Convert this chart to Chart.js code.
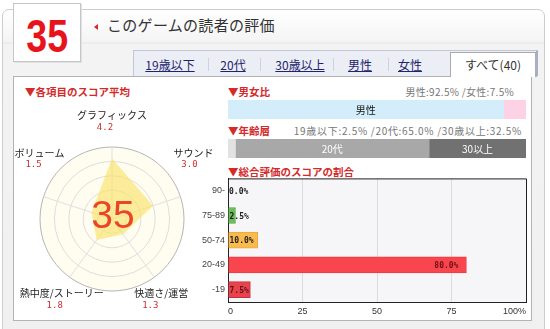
<!DOCTYPE html>
<html lang="ja">
<head>
<meta charset="utf-8">
<title>このゲームの読者の評価</title>
<script src="https://cdn.jsdelivr.net/npm/chart.js@4.4.1/dist/chart.umd.min.js"></script>
<style>
  html, body { margin: 0; padding: 0; background: #fff; }
  body { width: 550px; height: 329px; position: relative; overflow: hidden; font-family: "Noto Sans CJK JP", sans-serif; }
  .abs { position: absolute; }
  #frame { left: 2px; top: 9px; width: 543px; height: 330px; box-sizing: border-box; border: 1px solid #cdcdcd; border-radius: 7px 7px 0 0;
    background: linear-gradient(#ffffff 0px, #f4f4f4 32px, #e4e4e4 33px, #f3f3f3 34px, #f0f0f0 100%); }
  #scoreBox { left: 13px; top: 3px; width: 68px; height: 59px; box-sizing: border-box; background: #fff; border: 1px solid #c6c6c6;
    box-shadow: 1px 1px 0 #e2e2e2; text-align: center; }
  #scoreBox span { display: inline-block; font: bold 47px/47px "Liberation Sans", Arial, sans-serif; color: #e8141c; transform: scaleX(0.8); margin-top: 8px; }
  #titleMark { left: 94px; top: 24px; width: 0; height: 0; border-top: 3px solid transparent; border-bottom: 3px solid transparent; border-right: 4px solid #d8262c; }
  #title { left: 107px; top: 17px; font-size: 15px; line-height: 16px; color: #333; letter-spacing: 0.3px; white-space: nowrap; }
  #tabStrip { left: 133px; top: 50px; width: 405px; height: 26px; box-sizing: border-box; background: #eceef6; border-top: 1px solid #c3c6d4; border-left: 1px solid #c3c6d4; border-right: 2px solid #a9aec4; }
  .tab { top: 58px; font-size: 12px; line-height: 14px; color: #23236b; text-decoration: underline; white-space: nowrap; transform: translateX(-50%); }
  .sep { top: 58px; width: 1px; height: 13px; background: #cfd1dc; }
  #panel { left: 13px; top: 76px; width: 519px; height: 245px; box-sizing: border-box; background: #fff; border: 1px solid #b3b3b3; }
  #activeTab { left: 450px; top: 52px; width: 87px; height: 25px; box-sizing: border-box; background: #fff; border: 1px solid #aaaaaa; border-bottom: none; border-right: 2px solid #a9aec4; }
  #activeTab span { display: block; text-align: center; font-size: 12px; line-height: 14px; margin-top: 5px; color: #333; }
  .head { font-size: 10.5px; line-height: 12px; font-weight: bold; color: #d42a2a; white-space: nowrap; }
  .stat { font-size: 10px; line-height: 12px; color: #777; white-space: nowrap; }
  canvas { position: absolute; }
</style>
</head>
<body>
<div id="frame" class="abs"></div>
<div id="scoreBox" class="abs"><span id="scoreNum"></span></div>
<div id="titleMark" class="abs"></div>
<div id="title" class="abs">このゲームの読者の評価</div>
<div id="tabStrip" class="abs"></div>
<div id="tabs"></div>
<div id="panel" class="abs"></div>
<div id="activeTab" class="abs"><span id="allTab"></span></div>

<div class="abs head" style="left:25px; top:86px;">▼各項目のスコア平均</div>
<div class="abs head" style="left:228px; top:86px;">▼男女比</div>
<div class="abs head" style="left:228px; top:125px;">▼年齢層</div>
<div class="abs head" style="left:228px; top:166px;">▼総合評価のスコアの割合</div>
<div id="genderStat" class="abs stat" style="right:36px; top:86px; letter-spacing:0.3px;"></div>
<div id="ageStat" class="abs stat" style="right:28px; top:125px; letter-spacing:0.7px;"></div>

<canvas id="radarCanvas" width="210" height="220" style="left:12px; top:100px;"></canvas>
<canvas id="genderCanvas" width="298" height="19" style="left:228px; top:100px;"></canvas>
<canvas id="ageCanvas" width="298" height="19" style="left:228px; top:139px;"></canvas>
<canvas id="rangeCanvas" width="350" height="150" style="left:188px; top:170px;"></canvas>

<script>
// 総合スコアと投稿数
const totalScore = 35;
const reviewCount = 40;

// タブ
const tabLabels = ['19歳以下', '20代', '30歳以上', '男性', '女性'];

// 各項目のスコア平均（5点満点）
const itemLabels = ['グラフィックス', 'サウンド', '快適さ/運営', '熱中度/ストーリー', 'ボリューム'];
const itemScores = [4.2, 3.0, 1.3, 1.8, 1.5];

// 男女比
const genderLabels = ['男性', '女性'];
const genderShares = [92.5, 7.5];

// 年齢層
const ageLabels = ['19歳以下', '20代', '30歳以上'];
const ageBarLabels = ['', '20代', '30以上'];
const ageShares = [2.5, 65.0, 32.5];

// 総合評価のスコアの割合
const rangeLabels = ['90-', '75-89', '50-74', '20-49', '-19'];
const rangeShares = [0.0, 2.5, 10.0, 80.0, 7.5];
const shareTicks = [0, 25, 50, 75, 100];

Chart.defaults.animation = false;
Chart.defaults.responsive = false;
Chart.defaults.plugins.legend.display = false;
Chart.defaults.plugins.tooltip.enabled = false;

// ---- ヘッダー・タブ ----
document.getElementById('scoreNum').textContent = totalScore;
document.getElementById('allTab').textContent = `すべて(${reviewCount})`;

const tabCenters = [170, 233, 300, 360, 410];
const sepXs = [208, 260, 333, 388];
const tabsEl = document.getElementById('tabs');
tabLabels.forEach((label, i) => {
    const t = document.createElement('div');
    t.className = 'abs tab';
    t.style.left = tabCenters[i] + 'px';
    t.textContent = label;
    tabsEl.appendChild(t);
});
sepXs.forEach(x => {
    const s = document.createElement('div');
    s.className = 'abs sep';
    s.style.left = x + 'px';
    tabsEl.appendChild(s);
});

document.getElementById('genderStat').textContent =
    genderLabels.map((l, i) => `${l}:${genderShares[i].toFixed(1)}%`).join(' /');
document.getElementById('ageStat').textContent =
    ageLabels.map((l, i) => `${l}:${ageShares[i].toFixed(1)}%`).join(' /');

// ---- レーダー ----
// 外周の頂点からの項目名・数値のずらし量
const nameOffsets = [[0, -32], [13, -44], [7, 16], [-8, 16], [-4, -44]];
const valueOffsets = [[-7, -19], [9, -32], [-4, 28], [-15, 28], [-10, -32]];

const radarLabels = {
    id: 'radarLabels',
    afterDatasetsDraw(chart) {
        const ctx = chart.ctx;
        const scale = chart.scales.r;
        ctx.save();
        ctx.textAlign = 'center';
        ctx.textBaseline = 'middle';
        itemLabels.forEach((label, i) => {
            const p = scale.getPointPosition(i, scale.drawingArea);
            ctx.font = '10px "Noto Sans CJK JP"';
            ctx.fillStyle = '#222';
            ctx.fillText(label, p.x + nameOffsets[i][0], p.y + nameOffsets[i][1]);
            ctx.font = '9px "DejaVu Sans Mono"';
            ctx.fillStyle = '#c8302f';
            ctx.fillText(itemScores[i].toFixed(1), p.x + valueOffsets[i][0], p.y + valueOffsets[i][1]);
        });
        // 中央の総合スコア
        ctx.font = '39px "Liberation Sans"';
        ctx.fillStyle = '#e8452c';
        ctx.textBaseline = 'alphabetic';
        ctx.fillText(String(totalScore), scale.xCenter + 1, scale.yCenter + 9);
        ctx.restore();
    }
};

new Chart(document.getElementById('radarCanvas'), {
    type: 'radar',
    data: {
        labels: itemLabels,
        datasets: [{
            data: itemScores,
            backgroundColor: 'rgba(250,226,100,0.62)',
            borderWidth: 0,
            pointRadius: 0,
            fill: true
        }]
    },
    options: {
        layout: { padding: { left: 28, right: 38, top: 47, bottom: 29 } },
        elements: { line: { tension: 0 } },
        scales: {
            r: {
                min: 0,
                max: 5,
                backgroundColor: '#fffdf0',
                ticks: { display: false, stepSize: 1 },
                pointLabels: { display: false },
                grid: { circular: true, color: c => (c.tick && c.tick.value === 5) ? '#b4b4b4' : '#dedede' },
                angleLines: { color: '#e0e0e0' }
            }
        }
    },
    plugins: [radarLabels]
});

// ---- 帯グラフ（男女比・年齢層） ----
const segmentText = {
    id: 'segmentText',
    afterDatasetsDraw(chart) {
        const ctx = chart.ctx;
        ctx.save();
        ctx.textAlign = 'center';
        ctx.textBaseline = 'middle';
        ctx.font = '10px "Noto Sans CJK JP"';
        chart.data.datasets.forEach((ds, i) => {
            if (!ds.segText) return;
            const bar = chart.getDatasetMeta(i).data[0];
            ctx.fillStyle = ds.segColor;
            ctx.fillText(ds.segText, (bar.x + bar.base) / 2, bar.y + 1);
        });
        ctx.restore();
    }
};

function stripChart(id, shares, colors, texts, textColors) {
    return new Chart(document.getElementById(id), {
        type: 'bar',
        data: {
            labels: [''],
            datasets: shares.map((v, i) => ({
                data: [v],
                backgroundColor: colors[i],
                borderWidth: 0,
                barPercentage: 1,
                categoryPercentage: 1,
                segText: texts[i],
                segColor: textColors[i]
            }))
        },
        options: {
            indexAxis: 'y',
            layout: { padding: 0 },
            scales: {
                x: { stacked: true, min: 0, max: 100, display: false },
                y: { stacked: true, display: false }
            }
        },
        plugins: [segmentText]
    });
}

stripChart('genderCanvas', genderShares, ['#d3eefa', '#fdd2e5'], [genderLabels[0], ''], ['#111', '#111']);
stripChart('ageCanvas', ageShares, ['#e2e2e2', '#a8a8a8', '#717171'], ageBarLabels, ['#fff', '#fff', '#fff']);

// ---- 総合評価のスコアの割合 ----
const rangeColors = ['#cccccc', '#6bbd5c', '#f9ba4e', '#f9454d', '#e6434f'];
const rangeBorders = ['#cccccc', '#58a94a', '#eba63c', '#ee3b43', '#c9303c'];
const rangeTextColors = ['#222', '#222', '#222', '#6a1010', '#6a1010'];

const plotFrame = {
    id: 'plotFrame',
    beforeDraw(chart) {
        const { ctx, chartArea: a } = chart;
        ctx.save();
        ctx.fillStyle = '#f6f6f9';
        ctx.fillRect(a.left, a.top, a.right - a.left, a.bottom - a.top);
        ctx.restore();
    },
    afterDraw(chart) {
        const { ctx, chartArea: a } = chart;
        ctx.save();
        ctx.strokeStyle = '#222';
        ctx.lineWidth = 1;
        ctx.beginPath();
        ctx.moveTo(a.left, a.top + 0.5);
        ctx.lineTo(a.right + 0.5, a.top + 0.5);
        ctx.lineTo(a.right + 0.5, a.bottom);
        ctx.stroke();
        ctx.restore();
    }
};

const shareLabels = {
    id: 'shareLabels',
    afterDatasetsDraw(chart) {
        const ctx = chart.ctx;
        const meta = chart.getDatasetMeta(0);
        ctx.save();
        ctx.font = 'bold 8px "DejaVu Sans Mono"';
        ctx.textBaseline = 'middle';
        meta.data.forEach((bar, i) => {
            const text = rangeShares[i].toFixed(1) + '%';
            ctx.fillStyle = rangeTextColors[i];
            if (bar.x - bar.base > 40) {
                ctx.textAlign = 'right';
                ctx.fillText(text, bar.x - 8, bar.y + 1);
            } else {
                ctx.textAlign = 'left';
                ctx.fillText(text, bar.base + 1, bar.y + 1);
            }
        });
        ctx.restore();
    }
};

new Chart(document.getElementById('rangeCanvas'), {
    type: 'bar',
    data: {
        labels: rangeLabels,
        datasets: [{
            data: rangeShares,
            backgroundColor: rangeColors,
            borderColor: rangeBorders,
            borderWidth: 1,
            barThickness: 16
        }]
    },
    options: {
        indexAxis: 'y',
        layout: { padding: { top: 8, right: 12, left: 0, bottom: 0 } },
        scales: {
            x: {
                min: 0,
                max: 100,
                afterBuildTicks: s => { s.ticks = shareTicks.map(v => ({ value: v })); },
                afterFit: s => { s.height = 18; s.paddingLeft = 0; s.paddingRight = 0; },
                ticks: {
                    align: 'inner',
                    maxRotation: 0,
                    padding: 4,
                    color: '#333',
                    font: { family: 'Liberation Sans', size: 9 },
                    callback: v => v === 100 ? '100%' : String(v)
                },
                grid: { color: '#dcdcdc', drawTicks: false },
                border: { color: '#222' }
            },
            y: {
                afterFit: s => { s.width = 40; },
                ticks: { padding: 3, color: '#444', font: { family: 'Liberation Sans', size: 9 } },
                grid: { display: false, drawTicks: false },
                border: { color: '#222' }
            }
        }
    },
    plugins: [plotFrame, shareLabels]
});
</script>
</body>
</html>
